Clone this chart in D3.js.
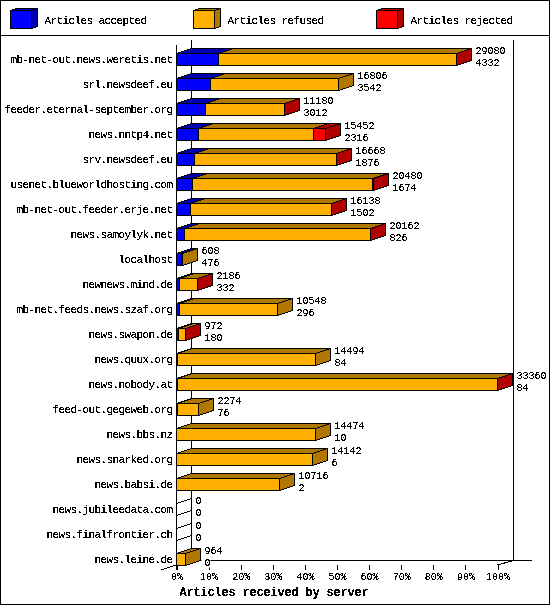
<!DOCTYPE html>
<html><head><meta charset="utf-8">
<script src="https://cdnjs.cloudflare.com/ajax/libs/d3/7.8.5/d3.min.js"></script>
<style>html,body{margin:0;padding:0;background:#fff}svg{display:block}
text{font-family:"Liberation Mono","DejaVu Sans Mono",monospace;font-size:11px;letter-spacing:-0.6px;fill:#000}
text.num{font-size:10px;letter-spacing:0}</style>
</head><body><div id="c"></div>
<script>
const categories = ["mb-net-out.news.weretis.net","srl.newsdeef.eu","feeder.eternal-september.org","news.nntp4.net","srv.newsdeef.eu","usenet.blueworldhosting.com","mb-net-out.feeder.erje.net","news.samoylyk.net","localhost","newnews.mind.de","mb-net.feeds.news.szaf.org","news.swapon.de","news.quux.org","news.nobody.at","feed-out.gegeweb.org","news.bbs.nz","news.snarked.org","news.babsi.de","news.jubileedata.com","news.finalfrontier.ch","news.leine.de"];
const offered  = [29080,16806,11180,15452,16668,20480,16138,20162,608,2186,10548,972,14494,33360,2274,14474,14142,10716,0,0,964];
const accepted = [4332,3542,3012,2316,1876,1674,1502,826,476,332,296,180,84,84,76,10,6,2,0,0,0];
const rejected = [4,0,6,1250,12,130,8,10,0,2,0,1,0,30,0,0,0,0,0,0,0];
const seriesNames = ["Articles accepted","Articles refused","Articles rejected"];
const seriesFront = ["#0000ff","#ffb000","#ff0000"];
const seriesDark  = ["#0000b0","#b07800","#b00000"];
const percentTicks = [0,10,20,30,40,50,60,70,80,90,100];
const axisTitle = "Articles received by server";

const W=550,H=605,dx=15,dy=-5;
const svg=d3.select("#c").append("svg").attr("width",W).attr("height",H);
const defs=svg.append("defs");
const f=defs.append("filter").attr("id","bit").attr("filterUnits","userSpaceOnUse")
  .attr("x",0).attr("y",-600).attr("width",W).attr("height",1300).attr("color-interpolation-filters","sRGB");
f.append("feComponentTransfer").append("feFuncA").attr("type","discrete").attr("tableValues","0 0 1 1 1");

const x=d3.scaleLinear().domain([0,d3.max(offered)]).range([176.5,497.5]);
const pct=d3.scaleLinear().domain([0,100]).range([176.5,497.5]);
const y=d3.scaleBand().domain(categories).range([40,565]);
const px=v=>Math.round(v-0.5)+0.5;
const line=(g,x1,y1,x2,y2)=>g.append("line").attr("x1",x1).attr("y1",y1).attr("x2",x2).attr("y2",y2)
  .attr("stroke","#000").attr("shape-rendering","crispEdges");
const poly=(g,pts,fill)=>g.append("polygon").attr("points",pts.map(p=>p.join(",")).join(" "))
  .attr("fill",fill).attr("stroke","#000").attr("shape-rendering","crispEdges");

function box(g,x0,x1,top,bot,i,ox,oy){
  poly(g,[[x1,top],[x1+ox,top+oy],[x1+ox,bot+oy],[x1,bot]],seriesDark[i]);
  poly(g,[[x0,top],[x0+ox,top+oy],[x1+ox,top+oy],[x1,top]],seriesDark[i]);
  poly(g,[[x0,top],[x1,top],[x1,bot],[x0,bot]],seriesFront[i]);
}

// frame and legend
svg.append("rect").attr("x",0.5).attr("y",0.5).attr("width",W-1).attr("height",H-1)
  .attr("fill","#fff").attr("stroke","#000").attr("shape-rendering","crispEdges");
line(svg,0,35.5,W,35.5);
const legendX=[10.5,193.5,376.5];
const leg=svg.append("g");
seriesNames.forEach((n,i)=>{
  box(leg,legendX[i],legendX[i]+21,10.5,28.5,i,6,-2);
  leg.append("text").attr("x",legendX[i]+34).attr("y",24).attr("filter","url(#bit)").text(n);
});

// back wall
const plot=svg.append("g");
line(plot,191.5,40,191.5,560.5);
line(plot,191.5,560.5,532,560.5);
line(plot,176.5,45,176.5,570);
line(plot,161,570,176.5,565);
line(plot,497.5,565,513.5,560.5);

// x axis
const axis=d3.axisBottom(pct).tickValues(percentTicks).tickFormat(d=>d+"%").tickSize(5).tickPadding(3);
const ax=plot.append("g").attr("transform","translate(0,565)").call(axis);
ax.select(".domain").remove();
ax.selectAll("line").attr("stroke","#000").attr("shape-rendering","crispEdges");
ax.selectAll("text").attr("class","num");
ax.attr("font-family",null).attr("font-size",null).attr("filter","url(#bit)");

// bars
const bars=plot.append("g"), labels=plot.append("g");
categories.forEach((c,i)=>{
  const top=y(c)+13.5,bot=top+12;
  const vals=[accepted[i],offered[i]-accepted[i]-rejected[i],rejected[i]];
  let sum=0;
  const g=bars.append("g");
  if(offered[i]===0){
    const a=px(x(0));
    line(g,a,top,a+dx,top+dy);
    line(g,a,bot,a+dx,bot+dy);
    line(g,a+dx,top+dy,a+dx,bot+dy);
  }
  vals.forEach((v,s)=>{
    if(v===0) return;
    const a=px(x(sum)),b=px(x(sum+v));
    box(g,a,b,top,bot,s,dx,dy);
    sum+=v;
  });
  const xb=px(x(offered[i]))+dx;
  labels.append("rect").attr("x",xb+1).attr("y",bot-8).attr("width",String(accepted[i]).length*6+3).attr("height",10).attr("fill","#fff");
  labels.append("text").attr("class","num").attr("x",xb+4).attr("y",top).attr("filter","url(#bit)").text(offered[i]);
  labels.append("text").attr("class","num").attr("x",xb+4).attr("y",bot).attr("filter","url(#bit)").text(accepted[i]);
  labels.append("text").attr("x",172.5).attr("y",top+9).attr("text-anchor","end").attr("filter","url(#bit)").text(c);
});
line(plot,513.5,40,513.5,560.5);

svg.append("text").attr("x",274).attr("y",596).attr("text-anchor","middle")
  .attr("filter","url(#bit)").style("font-weight","bold").style("font-size","12px").style("letter-spacing","-0.2px").text(axisTitle);
</script></body></html>
